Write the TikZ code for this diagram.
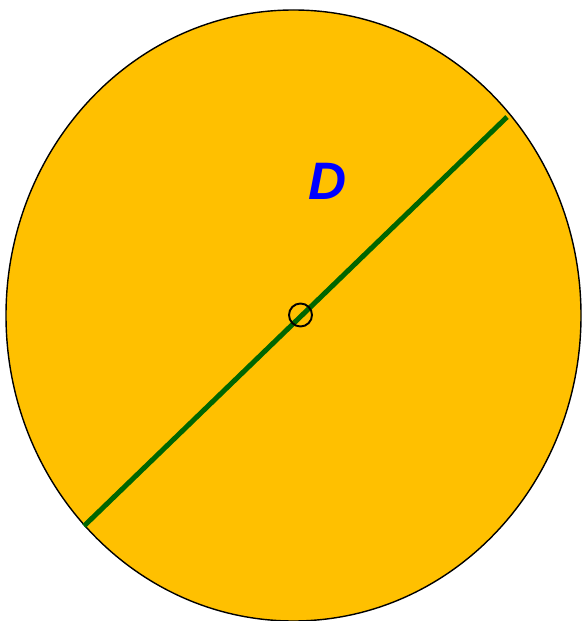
\documentclass[tikz,border=0pt]{standalone}
\usepackage{fontspec}
\setsansfont{Liberation Sans}
\definecolor{jaune}{RGB}{255,192,0}
\definecolor{vert}{RGB}{0,102,0}
\definecolor{bleuD}{RGB}{0,0,255}
\usetikzlibrary{positioning}

\begin{document}
\begin{tikzpicture}[x=0.02cm,y=-0.02cm]
	\useasboundingbox (0,0) rectangle (581,621);
	%% disque
	\draw[black,line width=0.8pt,fill=jaune] (293.5,315.5) ellipse [x radius=287.5,y radius=305.5];
	%% diametre
	\coordinate (bas) at (84,526);
	\coordinate (haut) at (507,117);
	\draw[vert,line width=0.1cm] (bas)--(haut);
	%% centre
	\node[draw,circle,line width=1.1pt,minimum size=0.46cm,inner sep=0pt] (centre) at (300.5,315) {};
	%% etiquette
	\node[bleuD,font=\sffamily\bfseries\itshape\fontsize{30}{30}\selectfont] (lettre) at (328,181) {D};
\end{tikzpicture}
\end{document}
